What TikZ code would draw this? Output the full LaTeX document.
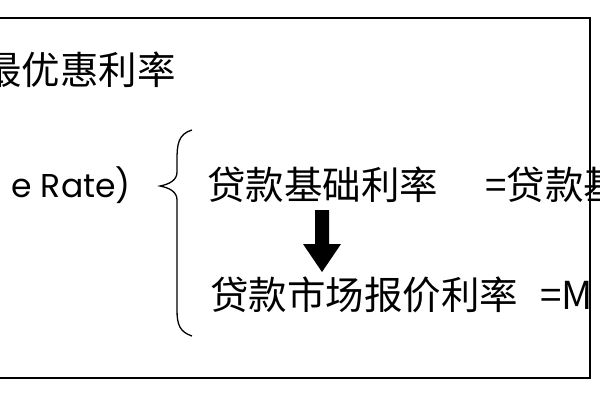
\documentclass[tikz,border=0pt]{standalone}
\usepackage{fontspec}
\setmainfont{Poppins}
\newfontfamily\cjk{Noto Sans CJK SC}
\begin{document}
\begin{tikzpicture}[x=1pt,y=-1pt,
  txt/.style={inner sep=0pt,font=\cjk\fontsize{38.5}{40}\selectfont},
  lat/.style={inner sep=0pt,font=\fontsize{33}{36}\selectfont}]
\useasboundingbox (0,0) rectangle (600,400);
\clip (0,0) rectangle (600,400);
\fill[white] (0,0) rectangle (600,400);
\draw[line width=2pt] (-20,18) rectangle (590,378);
\node[txt,anchor=east] (t1) at (176,70) {最优惠利率};
\node[lat,anchor=east] (t2) at (131,185) {e Rate)};
\node[txt,anchor=west] (a1) at (207,185) {贷款基础利率};
\node[txt,anchor=west] (a2) at (485,185) {=贷款基础利率};
\node[txt,anchor=west] (b1) at (210,295) {贷款市场报价利率};
\node[txt,anchor=west] (b2) at (540,295) {=M};
\draw[line width=1.3pt] (192,130) .. controls (178,134) and (177,145) .. (177,160)
  -- (177,172) .. controls (177,180) and (170,184) .. (160,186)
  .. controls (170,188) and (177,192) .. (177,200) -- (177,310)
  .. controls (177,325) and (180,332) .. (192,336);
\fill (315,210) -- (329,210) -- (329,244) -- (341,244) -- (322,272) -- (303,244) -- (315,244) -- cycle;
\end{tikzpicture}
\end{document}
